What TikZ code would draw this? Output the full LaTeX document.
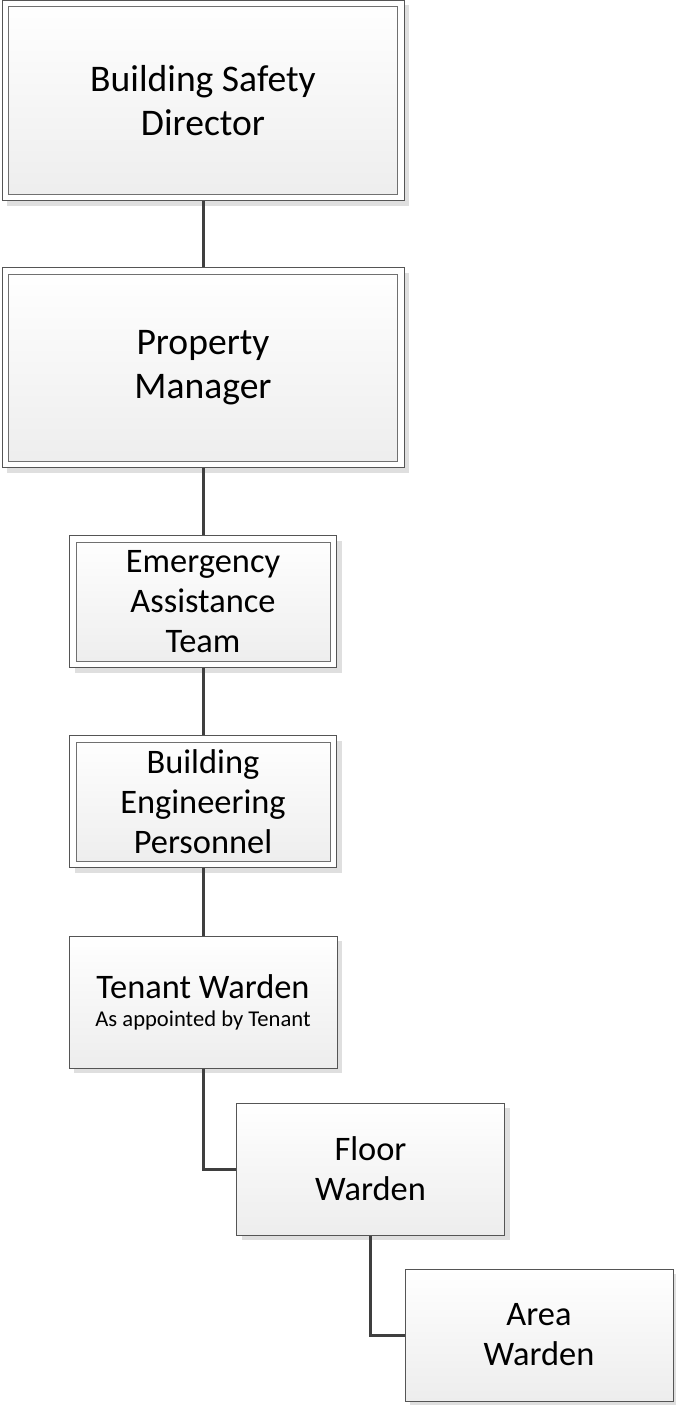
\documentclass[tikz,border=0pt]{standalone}
\usepackage{fontspec}
\setmainfont{Carlito}
\usetikzlibrary{shadows,positioning}
\definecolor{boxline}{HTML}{555555}
\definecolor{innerline}{HTML}{707070}
\definecolor{linkline}{HTML}{3F3F3F}
\definecolor{boxgrey}{HTML}{EDEDED}
\definecolor{shadowgrey}{HTML}{DFDFDF}
\newcommand\boxfontL{\fontsize{37.6}{44.5}\selectfont}
\newcommand\boxfontM{\fontsize{34.4}{40}\selectfont}
\newcommand\boxfontS{\fontsize{22.6}{28}\selectfont}
\begin{document}
\begin{tikzpicture}[x=1pt,y=-1pt,
    orgbox/.style={draw=boxline, line width=1pt, rectangle, align=center, inner sep=0pt,
      drop shadow={shadow xshift=5pt, shadow yshift=-5pt, fill=shadowgrey, opacity=1}},
    singlebox/.style={orgbox, top color=white, bottom color=boxgrey,
      minimum width=268pt, minimum height=132pt, font=\boxfontM},
    doublebox/.style={orgbox, fill=white,
      path picture={\draw[innerline, line width=1pt, top color=white, bottom color=boxgrey]
        ([shift={(6.5pt,6.5pt)}]path picture bounding box.south west) rectangle
        ([shift={(-6.5pt,-6.5pt)}]path picture bounding box.north east);}},
    bigbox/.style={doublebox, minimum width=402pt, minimum height=200pt, font=\boxfontL},
    midbox/.style={doublebox, minimum width=267pt, minimum height=132pt, font=\boxfontM},
    link/.style={draw=linkline, line width=3pt}]
  \useasboundingbox (0,0) rectangle (676,1405);
  \node[bigbox] (bsd) at (203,100.5) {Building Safety\\Director};
  \node[bigbox] (pm) at (203,367.5) {Property\\Manager};
  \node[midbox] (eat) at (203,601.5) {Emergency\\Assistance\\Team};
  \node[midbox] (bep) at (203,801.5) {Building\\Engineering\\Personnel};
  \node[singlebox] (tw) at (203,1002) {Tenant Warden\\[-12pt]{\boxfontS As appointed by Tenant}};
  \node[singlebox] (fw) at (370.5,1169) {Floor\\Warden};
  \node[singlebox] (aw) at (539,1335) {Area\\Warden};
  % connectors
  \draw[link] (bsd) -- (pm);
  \draw[link] (pm) -- (eat);
  \draw[link] (eat) -- (bep);
  \draw[link] (bep) -- (tw);
  \draw[link] (tw.south) |- (fw.west);
  \draw[link] (fw.south) |- (aw.west);
\end{tikzpicture}
\end{document}
